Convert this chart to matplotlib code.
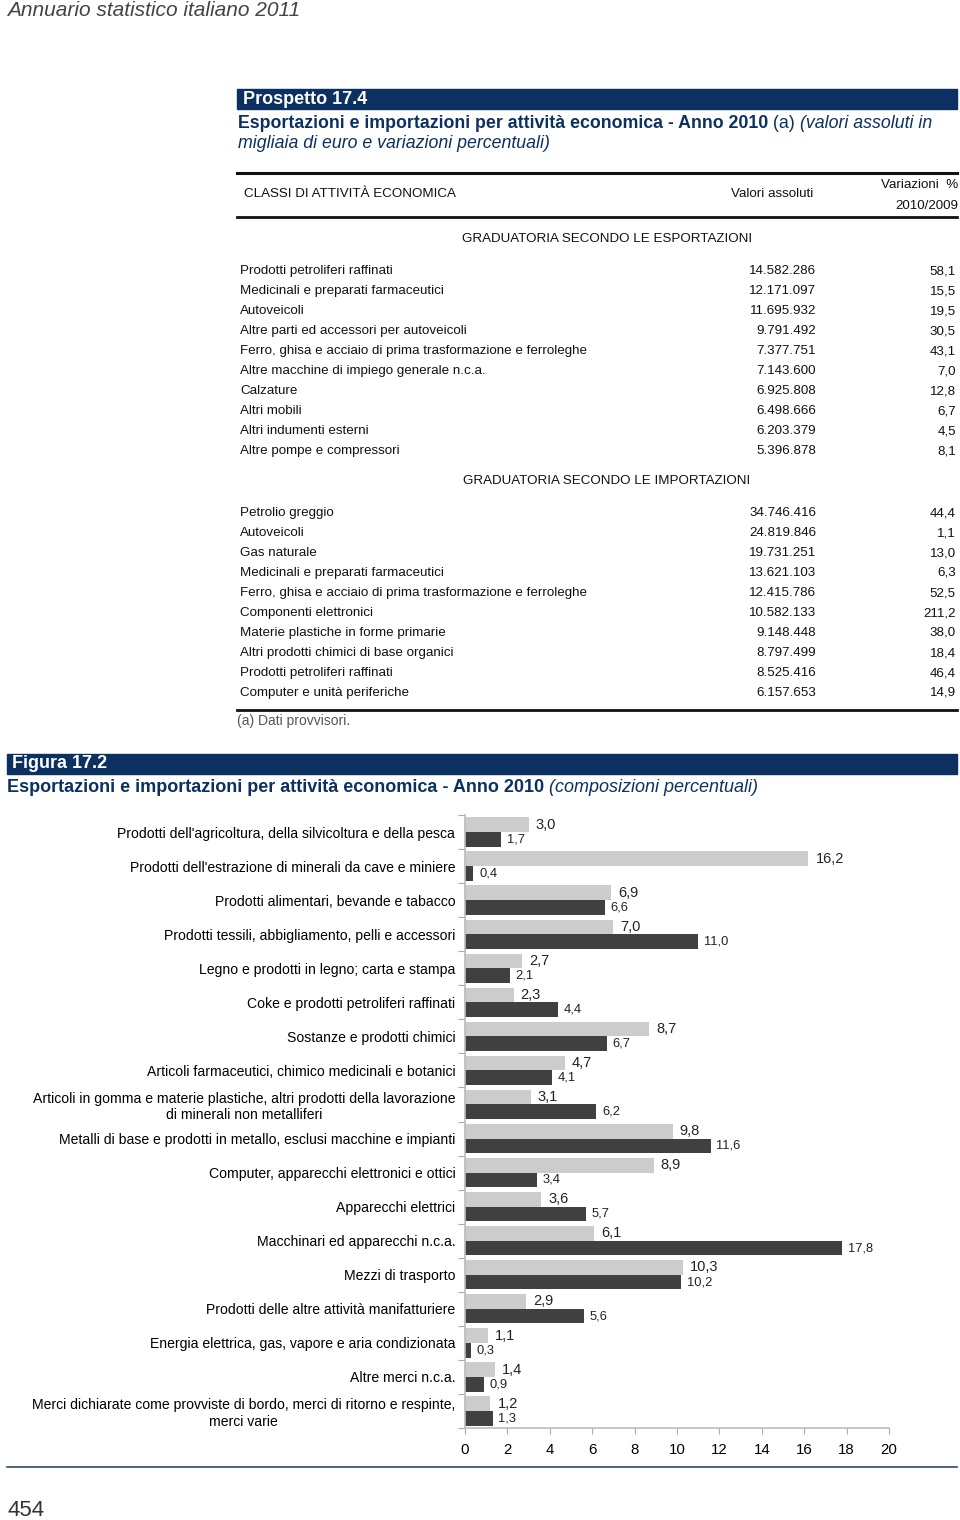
import matplotlib
matplotlib.use("Agg")
import matplotlib.pyplot as plt
import numpy as np

# ---- data: table (Prospetto 17.4)
exp_names = ["Prodotti petroliferi raffinati", "Medicinali e preparati farmaceutici",
             "Autoveicoli", "Altre parti ed accessori per autoveicoli",
             "Ferro, ghisa e acciaio di prima trasformazione e ferroleghe",
             "Altre macchine di impiego generale n.c.a.", "Calzature", "Altri mobili",
             "Altri indumenti esterni", "Altre pompe e compressori"]
exp_values = ["14.582.286", "12.171.097", "11.695.932", "9.791.492", "7.377.751",
              "7.143.600", "6.925.808", "6.498.666", "6.203.379", "5.396.878"]
exp_var = ["58,1", "15,5", "19,5", "30,5", "43,1", "7,0", "12,8", "6,7", "4,5", "8,1"]

imp_names = ["Petrolio greggio", "Autoveicoli", "Gas naturale",
             "Medicinali e preparati farmaceutici",
             "Ferro, ghisa e acciaio di prima trasformazione e ferroleghe",
             "Componenti elettronici", "Materie plastiche in forme primarie",
             "Altri prodotti chimici di base organici", "Prodotti petroliferi raffinati",
             "Computer e unità periferiche"]
imp_values = ["34.746.416", "24.819.846", "19.731.251", "13.621.103", "12.415.786",
              "10.582.133", "9.148.448", "8.797.499", "8.525.416", "6.157.653"]
imp_var = ["44,4", "1,1", "13,0", "6,3", "52,5", "211,2", "38,0", "18,4", "46,4", "14,9"]

# ---- data: chart (Figura 17.2)
categories = ["Prodotti dell'agricoltura, della silvicoltura e della pesca",
              "Prodotti dell'estrazione di minerali da cave e miniere",
              "Prodotti alimentari, bevande e tabacco",
              "Prodotti tessili, abbigliamento, pelli e accessori",
              "Legno e prodotti in legno; carta e stampa",
              "Coke e prodotti petroliferi raffinati",
              "Sostanze e prodotti chimici",
              "Articoli farmaceutici, chimico medicinali e botanici",
              "Articoli in gomma e materie plastiche, altri prodotti della lavorazione\ndi minerali non metalliferi",
              "Metalli di base e prodotti in metallo, esclusi macchine e impianti",
              "Computer, apparecchi elettronici e ottici",
              "Apparecchi elettrici",
              "Macchinari ed apparecchi n.c.a.",
              "Mezzi di trasporto",
              "Prodotti delle altre attività manifatturiere",
              "Energia elettrica, gas, vapore e aria condizionata",
              "Altre merci n.c.a.",
              "Merci dichiarate come provviste di bordo, merci di ritorno e respinte,\nmerci varie"]
importazioni = [3.0, 16.2, 6.9, 7.0, 2.7, 2.3, 8.7, 4.7, 3.1, 9.8, 8.9, 3.6, 6.1, 10.3, 2.9, 1.1, 1.4, 1.2]
esportazioni = [1.7, 0.4, 6.6, 11.0, 2.1, 4.4, 6.7, 4.1, 6.2, 11.6, 3.4, 5.7, 17.8, 10.2, 5.6, 0.3, 0.9, 1.3]
xticks = [0, 2, 4, 6, 8, 10, 12, 14, 16, 18, 20]

NAVY = "#0c3161"
LIGHT = "#cccccc"
DARK = "#404040"
W, H = 960, 1520

plt.rcParams['font.family'] = ['Liberation Sans', 'DejaVu Sans']
fig = plt.figure(figsize=(W / 100, H / 100), dpi=100)


def fy(py):
    return 1 - py / H


def fx(px):
    return px / W


# page header
fig.text(fx(7), fy(11), "Annuario statistico italiano 2011", fontsize=15, style='italic',
         color="#444444", va='center')

# Prospetto band
fig.patches.append(plt.Rectangle((fx(237), fy(109)), fx(957) - fx(237), fy(89) - fy(109),
                                 transform=fig.transFigure, color=NAVY))
fig.text(fx(243), fy(99), "Prospetto 17.4", fontsize=13, weight='bold', color='white', va='center')
t = fig.text(fx(238), fy(123), "Esportazioni e importazioni per attività economica - Anno 2010",
             fontsize=12.8, weight='bold', color=NAVY, va='center')
fig.canvas.draw()
bb = t.get_window_extent()
t1 = fig.text(bb.x1 / W, fy(123), " (a) ", fontsize=12.8, color=NAVY, va='center')
fig.canvas.draw()
bb1 = t1.get_window_extent()
fig.text(bb1.x1 / W, fy(123), "(valori assoluti in", fontsize=12.8, style='italic',
         color=NAVY, va='center')
fig.text(fx(238), fy(143), "migliaia di euro e variazioni percentuali)", fontsize=12.8,
         style='italic', color=NAVY, va='center')

# table rules
for yy, lw in [(173, 2.2), (217, 2.0), (710, 2.0)]:
    fig.add_artist(plt.Line2D([fx(237), fx(957)], [fy(yy), fy(yy)], transform=fig.transFigure,
                              color='#111111', lw=lw))

tk = dict(fontsize=9.6, color='#111111', va='center')
fig.text(fx(244), fy(194), "CLASSI DI ATTIVITÀ ECONOMICA", **tk)
fig.text(fx(813), fy(194), "Valori assoluti", ha='right', **tk)
fig.text(fx(958), fy(185), "Variazioni  %", ha='right', **tk)
fig.text(fx(958), fy(206), "2010/2009", ha='right', **tk)
fig.text(fx(607), fy(239), "GRADUATORIA SECONDO LE ESPORTAZIONI", ha='center', **tk)
fig.text(fx(607), fy(481), "GRADUATORIA SECONDO LE IMPORTAZIONI", ha='center', **tk)

for start, names, vals, vars_ in [(271, exp_names, exp_values, exp_var),
                                  (513, imp_names, imp_values, imp_var)]:
    for k, (n, v, p) in enumerate(zip(names, vals, vars_)):
        yy = fy(start + 20 * k)
        fig.text(fx(240), yy, n, **tk)
        fig.text(fx(816), yy, v, ha='right', **tk)
        fig.text(fx(956), yy, p, ha='right', **tk)

fig.text(fx(237), fy(721), "(a) Dati provvisori.", fontsize=10,
         color='#555555', va='center')

# Figura band
fig.patches.append(plt.Rectangle((fx(7), fy(774)), fx(957) - fx(7), fy(754) - fy(774),
                                 transform=fig.transFigure, color=NAVY))
fig.text(fx(12), fy(764), "Figura 17.2", fontsize=13, weight='bold', color='white', va='center')
t3 = fig.text(fx(7), fy(787), "Esportazioni e importazioni per attività economica - Anno 2010",
              fontsize=13, weight='bold', color=NAVY, va='center')
fig.canvas.draw()
bb3 = t3.get_window_extent()
fig.text(bb3.x1 / W, fy(787), " (composizioni percentuali)", fontsize=13, style='italic',
         color=NAVY, va='center')

# ---- chart
ax = fig.add_axes([fx(465), fy(1428), fx(889) - fx(465), fy(815) - fy(1428)])
n = len(categories)
y = np.arange(n)
h = 0.43
ax.barh(y - h / 2, importazioni, height=h, color=LIGHT, zorder=2)
ax.barh(y + h / 2, esportazioni, height=h, color=DARK, zorder=2)
for i in range(n):
    ax.annotate(f"{importazioni[i]:.1f}".replace('.', ','), (importazioni[i], y[i] - h / 2),
                xytext=(5, 0), textcoords='offset points', va='center', fontsize=10.5,
                color='#222222')
    ax.annotate(f"{esportazioni[i]:.1f}".replace('.', ','), (esportazioni[i], y[i] + h / 2),
                xytext=(4, 0), textcoords='offset points', va='center', fontsize=9.3,
                color='#222222')

ax.set_xlim(0, 20)
ax.set_ylim(n - 0.5, -0.5)
ax.set_xticks(xticks)
ax.set_xticklabels([str(v) for v in xticks], fontsize=10.8)
ax.set_yticks(np.arange(n + 1) - 0.5)
ax.set_yticklabels([])
ax.set_yticks(y, minor=True)
ax.set_yticklabels(categories, minor=True, fontsize=10.1, ha='right', multialignment='center')
ax.tick_params(axis='y', which='minor', length=0, pad=7)
ax.tick_params(axis='y', which='major', length=5, color='#aaaaaa', direction='out')
ax.tick_params(axis='x', length=4, color='#aaaaaa', direction='out', pad=7)
for s in ['top', 'right']:
    ax.spines[s].set_visible(False)
for s in ['left', 'bottom']:
    ax.spines[s].set_color('#bbbbbb')
    ax.spines[s].set_linewidth(1.2)

# footer
fig.add_artist(plt.Line2D([fx(7), fx(957)], [fy(1467), fy(1467)], transform=fig.transFigure,
                          color='#2f4a66', lw=1.2))
fig.text(fx(7), fy(1510), "454", fontsize=16, color='#333333', va='center')

fig.savefig("out.png", dpi=100)
